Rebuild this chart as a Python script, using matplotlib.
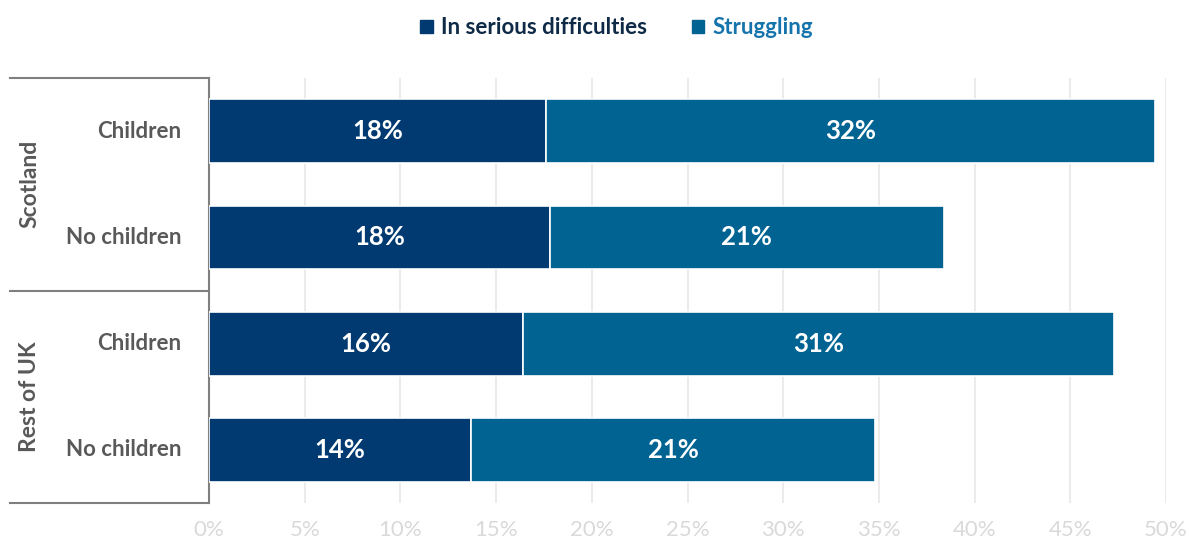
import matplotlib
matplotlib.use("Agg")
import matplotlib.pyplot as plt
import matplotlib.transforms as mtransforms
from matplotlib.lines import Line2D
from matplotlib.patches import Patch
import numpy as np

plt.rcParams['font.family'] = ['Lato', 'DejaVu Sans']

# Data
groups = ["Scotland", "Rest of UK"]
categories = ["Children", "No children", "Children", "No children"]
serious = [17.6, 17.8, 16.4, 13.7]
struggling = [31.8, 20.6, 30.9, 21.1]
series_names = ["In serious difficulties", "Struggling"]
xticks = [0, 5, 10, 15, 20, 25, 30, 35, 40, 45, 50]

c_serious = "#003A70"
c_struggling = "#006392"
legend_text_colors = ["#0E2A47", "#1674AD"]
cat_color = "#595959"
line_color = "#7F7F7F"

W, H = 1189, 543
fig = plt.figure(figsize=(W / 100, H / 100), dpi=100)
ax = fig.add_axes([209 / W, 1 - 503 / H, (1166 - 209) / W, (503 - 78) / H])

y = np.arange(len(categories))
bar_h = 0.6
ax.barh(y, serious, height=bar_h, color=c_serious, edgecolor="white", linewidth=1.2, zorder=3)
ax.barh(y, struggling, left=serious, height=bar_h, color=c_struggling, edgecolor="white",
        linewidth=1.2, zorder=3)

for yi, s, t in zip(y, serious, struggling):
    ax.text(s / 2, yi, f"{s:.0f}%", ha="center", va="center", color="white",
            fontsize=18.5, fontweight="bold", zorder=4)
    ax.text(s + t / 2, yi, f"{t:.0f}%", ha="center", va="center", color="white",
            fontsize=18.5, fontweight="bold", zorder=4)

ax.set_xlim(0, 50)
ax.set_ylim(len(categories) - 0.5, -0.5)
ax.set_xticks(xticks)
ax.set_xticklabels([f"{v}%" for v in xticks])
ax.tick_params(axis="x", length=0, labelsize=16, labelcolor="#D9D9D9", pad=12)
ax.set_yticks([])
ax.grid(axis="x", color="#EBEBEB", linewidth=1.5, zorder=0)
for side in ["top", "right", "bottom"]:
    ax.spines[side].set_visible(False)
ax.spines["left"].set_color(line_color)
ax.spines["left"].set_linewidth(1.5)

# Category labels and group separators on the left
trans = mtransforms.blended_transform_factory(fig.transFigure, ax.transData)
for yi, lab in zip(y, categories):
    ax.text(181 / W, yi, lab, transform=trans, ha="right", va="center",
            fontsize=16, fontweight="bold", color=cat_color)

n_per_group = len(categories) // len(groups)
for gi, g in enumerate(groups):
    center = gi * n_per_group + (n_per_group - 1) / 2
    ax.text(30 / W, center, g, transform=trans, ha="center", va="center", rotation=90,
            fontsize=16.5, fontweight="bold", color=cat_color)

for b in [-0.5 + k * n_per_group for k in range(len(groups) + 1)]:
    ax.add_line(Line2D([10 / W, 209 / W], [b, b], transform=trans, color=line_color,
                       linewidth=1.5, clip_on=False))

# Legend
handles = [Patch(color=c_serious), Patch(color=c_struggling)]
leg = fig.legend(handles, series_names, loc="center", bbox_to_anchor=(617 / W, 1 - 28 / H),
                 ncol=2, frameon=False, handlelength=0.55, handleheight=0.55,
                 handletextpad=0.4, columnspacing=2.0,
                 prop={"size": 16, "weight": "bold"})
for txt, col in zip(leg.get_texts(), legend_text_colors):
    txt.set_color(col)

fig.savefig("out.png", dpi=100)
